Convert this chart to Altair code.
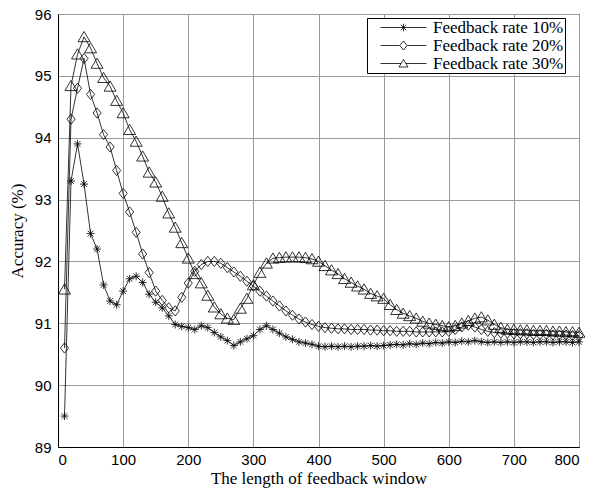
import altair as alt
import pandas as pd

x_vals = list(range(10, 810, 10))

series = ["Feedback rate 10%", "Feedback rate 20%", "Feedback rate 30%"]

rate10 = [89.5, 93.3, 93.9, 93.25, 92.45, 92.2, 91.62, 91.36, 91.3, 91.52,
          91.72, 91.76, 91.66, 91.47, 91.34, 91.25, 91.12, 90.98, 90.95, 90.93,
          90.9, 90.96, 90.93, 90.85, 90.78, 90.72, 90.64, 90.7, 90.75, 90.8,
          90.9, 90.96, 90.9, 90.84, 90.78, 90.74, 90.7, 90.68, 90.66, 90.63,
          90.62, 90.63, 90.62, 90.63, 90.62, 90.63, 90.63, 90.64, 90.63, 90.64,
          90.65, 90.66, 90.65, 90.67, 90.66, 90.68, 90.67, 90.69, 90.68, 90.7,
          90.69, 90.71, 90.7, 90.72, 90.7, 90.69, 90.7, 90.69, 90.7, 90.69,
          90.7, 90.7, 90.69, 90.7, 90.7, 90.69, 90.7, 90.7, 90.69, 90.7]

rate20 = [90.6, 94.3, 94.8, 95.28, 94.7, 94.4, 94.05, 93.85, 93.47, 93.1,
          92.8, 92.47, 92.12, 91.82, 91.52, 91.37, 91.25, 91.2, 91.42, 91.65,
          91.84, 91.95, 92.0, 92.0, 91.97, 91.9, 91.83, 91.76, 91.68, 91.6,
          91.52, 91.44, 91.36, 91.28, 91.2, 91.13, 91.07, 91.02, 90.98, 90.95,
          90.93, 90.92, 90.91, 90.91, 90.9, 90.9, 90.9, 90.89, 90.89, 90.88,
          90.88, 90.87, 90.87, 90.87, 90.86, 90.86, 90.86, 90.86, 90.86, 90.87,
          90.9, 90.94, 90.97, 90.94, 90.9, 90.87, 90.85, 90.84, 90.84, 90.83,
          90.83, 90.83, 90.82, 90.82, 90.82, 90.81, 90.81, 90.81, 90.8, 90.8]

rate30 = [91.55, 94.84, 95.35, 95.63, 95.45, 95.2, 94.97, 94.83, 94.6, 94.4,
          94.13, 93.94, 93.7, 93.44, 93.28, 93.05, 92.78, 92.55, 92.3, 92.05,
          91.8, 91.65, 91.45, 91.26, 91.15, 91.08, 91.06, 91.24, 91.4, 91.62,
          91.82, 91.97, 92.05, 92.06, 92.07, 92.07, 92.07, 92.06, 92.04, 92.0,
          91.93, 91.86, 91.8, 91.72, 91.66, 91.6, 91.55, 91.48, 91.44, 91.4,
          91.3, 91.22, 91.16, 91.12, 91.08, 91.03, 91.0, 90.98, 90.96, 90.94,
          90.96, 91.0, 91.04, 91.08, 91.1, 91.05, 90.98, 90.93, 90.9, 90.9,
          90.89, 90.89, 90.88, 90.88, 90.88, 90.87, 90.87, 90.86, 90.86, 90.85]

x_ticks = [0, 100, 200, 300, 400, 500, 600, 700, 800]
y_ticks = [89, 90, 91, 92, 93, 94, 95, 96]

rows = []
for name, vals in zip(series, [rate10, rate20, rate30]):
    for xv, v in zip(x_vals, vals):
        rows.append({"x": xv, "acc": v, "series": name, "legend": name})
df = pd.DataFrame(rows)

# marker shapes (MATLAB-like, hollow)
ASTER = "M -1 0 L 1 0 M 0 -1 L 0 1 M -0.72 -0.72 L 0.72 0.72 M -0.72 0.72 L 0.72 -0.72"
DIAM = "M 0 -1 L 0.8 0 L 0 1 L -0.8 0 Z"
TRI = "M 0 -0.9 L 1 0.8 L -1 0.8 Z"

# legend symbols: line + marker
L_ASTER = "M -4.6 0 L 4.6 0 M 0 -0.75 L 0 0.75 M -0.55 -0.55 L 0.55 0.55 M -0.55 0.55 L 0.55 -0.55"
L_DIAM = "M -4.6 0 L -0.8 0 M 0.8 0 L 4.6 0 M 0 -0.9 L 0.72 0 L 0 0.9 L -0.72 0 Z"
L_TRI = "M -4.6 0 L -0.5 0 M 0.5 0 L 4.6 0 M 0 -0.8 L 0.9 0.7 L -0.9 0.7 Z"

xscale = alt.Scale(domain=[0, 800], nice=False, zero=False)
yscale = alt.Scale(domain=[89, 96], nice=False, zero=False)

xenc = alt.X("x:Q", scale=xscale,
             axis=alt.Axis(values=x_ticks, title="The length of feedback window", format="d",
                           labelPadding=5, titlePadding=3))
yenc = alt.Y("acc:Q", scale=yscale,
             axis=alt.Axis(values=y_ticks, title="Accuracy (%)", format="d",
                           labelPadding=7, titlePadding=8))

base = alt.Chart(df)

lines = base.mark_line(color="black", strokeWidth=0.8).encode(
    x=xenc, y=yenc, detail="series:N"
)

points = base.mark_point(filled=False, color="black", strokeWidth=0.8, opacity=1).encode(
    x=xenc, y=yenc,
    shape=alt.Shape("series:N", scale=alt.Scale(domain=series, range=[ASTER, DIAM, TRI]), legend=None),
    size=alt.Size("series:N", scale=alt.Scale(domain=series, range=[64, 144, 169]), legend=None),
)

legend_layer = base.transform_filter("datum.x < 0").mark_point(
    filled=False, color="black", strokeWidth=0.8, size=144, opacity=1
).encode(
    x=xenc, y=yenc,
    shape=alt.Shape("legend:N",
                    scale=alt.Scale(domain=series, range=[L_ASTER, L_DIAM, L_TRI]),
                    legend=alt.Legend(title=None, orient="none", legendX=309, legendY=4,
                                      symbolOffset=27, labelOffset=21,
                                      padding=1, rowPadding=0,
                                      labelExpr="datum.label + '\u00a0'")),
)

chart = alt.layer(lines, points, legend_layer).resolve_scale(
    shape="independent", size="independent"
).properties(
    width=521, height=433,
    padding={"left": 50, "top": 6, "right": 6, "bottom": 42},
    autosize=alt.AutoSizeParams(type="none"),
).configure_view(
    stroke="black", strokeWidth=1
).configure_axis(
    labelFont="Liberation Sans", labelFontSize=15, labelColor="black",
    titleFont="Liberation Serif", titleFontSize=17, titleFontWeight="normal", titleColor="black",
    grid=True, gridColor="#9a9a9a", gridWidth=1,
    domainColor="black", domainWidth=1, ticks=False,
).configure_legend(
    labelFont="Liberation Serif", labelFontSize=17, labelColor="black",
    strokeColor="black", fillColor="white", symbolStrokeWidth=0.8,
    symbolStrokeColor="black", cornerRadius=0,
)

chart.save("out.html", embed_options={"renderer": "svg", "actions": False})
